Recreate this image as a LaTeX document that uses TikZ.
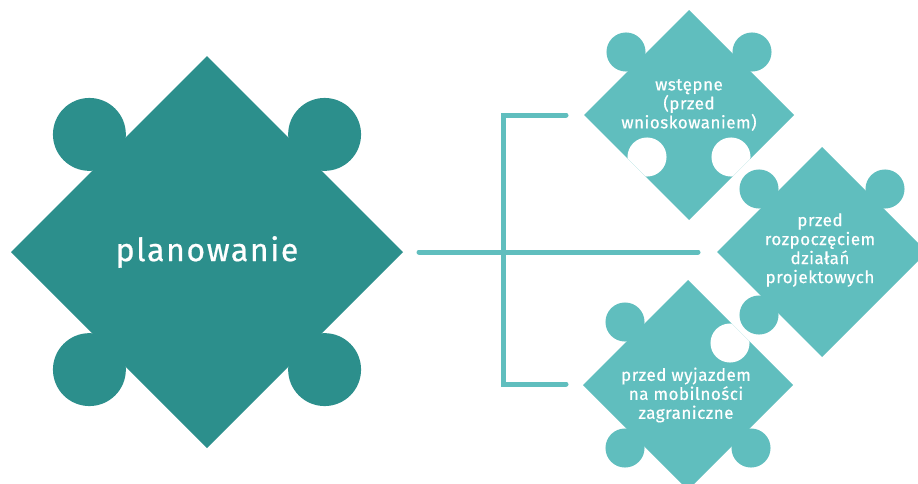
\documentclass[tikz,border=0pt]{standalone}
\usepackage{fontspec}
\setmainfont{Fira Sans}
\newfontfamily\bigfont{Fira Sans}[LetterSpace=5,FakeBold=0.6]
\newfontfamily\smallfont{Fira Sans}[LetterSpace=3,FakeBold=0.6]
\definecolor{pzdark}{RGB}{44,143,140}
\definecolor{pzlight}{RGB}{96,190,190}
\newcommand\pzbase[4]{\fill[#4] (#1-#3,#2) -- (#1,#2-#3) -- (#1+#3,#2) -- (#1,#2+#3) -- cycle;}
\newcommand\pzknob[6]{\fill[#6] (#1+#4*0.6*#3,#2+#5*0.6*#3) circle[radius=0.186*#3];}
\newcommand\pzhole[5]{\begin{scope}\clip (#1-#3,#2) -- (#1,#2-#3) -- (#1+#3,#2) -- (#1,#2+#3) -- cycle;
  \fill[white] (#1+#4*0.4*#3,#2+#5*0.4*#3) circle[radius=0.186*#3];\end{scope}}
\begin{document}
\begin{tikzpicture}[x=1pt,y=-1pt,
  bigtext/.style={text=white,font=\bigfont\fontsize{32}{36}\selectfont,inner sep=0pt},
  smalltext/.style={text=white,font=\smallfont\fontsize{17}{19}\selectfont,align=center,inner sep=0pt},
  link/.style={draw=pzlight,line width=5pt,line cap=round}]
\useasboundingbox (0,0) rectangle (918,483);
\clip (0,0) rectangle (918,483);
% big piece
\pzbase{207}{252}{196}{pzdark}
\pzknob{207}{252}{196}{-1}{-1}{pzdark}
\pzknob{207}{252}{196}{1}{-1}{pzdark}
\pzknob{207}{252}{196}{-1}{1}{pzdark}
\pzknob{207}{252}{196}{1}{1}{pzdark}
% bottom piece
\pzbase{688}{385}{105}{pzlight}
\pzknob{688}{385}{105}{-1}{-1}{pzlight}
\pzknob{688}{385}{105}{-1}{1}{pzlight}
\pzknob{688}{385}{105}{1}{1}{pzlight}
\pzhole{688}{385}{105}{1}{-1}
% middle piece
\pzbase{822}{252}{105}{pzlight}
\pzknob{822}{252}{105}{-1}{-1}{pzlight}
\pzknob{822}{252}{105}{1}{-1}{pzlight}
\pzknob{822}{252}{105}{-1}{1}{pzlight}
% top piece
\pzbase{689}{115}{105}{pzlight}
\pzknob{689}{115}{105}{-1}{-1}{pzlight}
\pzknob{689}{115}{105}{1}{-1}{pzlight}
\pzhole{689}{115}{105}{-1}{1}
\pzhole{689}{115}{105}{1}{1}
% texts
\node[bigtext] (plan) at (207,252) {planowanie};
\node[smalltext] (wst) at (689,105) {wstępne\\(przed\\wnioskowaniem)};
\node[smalltext] (roz) at (820,250) {przed\\rozpoczęciem\\działań\\projektowych};
\node[smalltext] (wyj) at (686,395) {przed wyjazdem\\na mobilności\\zagraniczne};
% connectors
\coordinate (hstart) at (419,252);
\coordinate (hend) at (698,252);
\coordinate (btop) at (566,115);
\coordinate (bbot) at (566,384);
\coordinate (vx) at (503,0);
\draw[link] (hstart) -- (hend);
\draw[link] (btop) -- (btop -| vx) -- (bbot -| vx) -- (bbot);
\end{tikzpicture}
\end{document}
